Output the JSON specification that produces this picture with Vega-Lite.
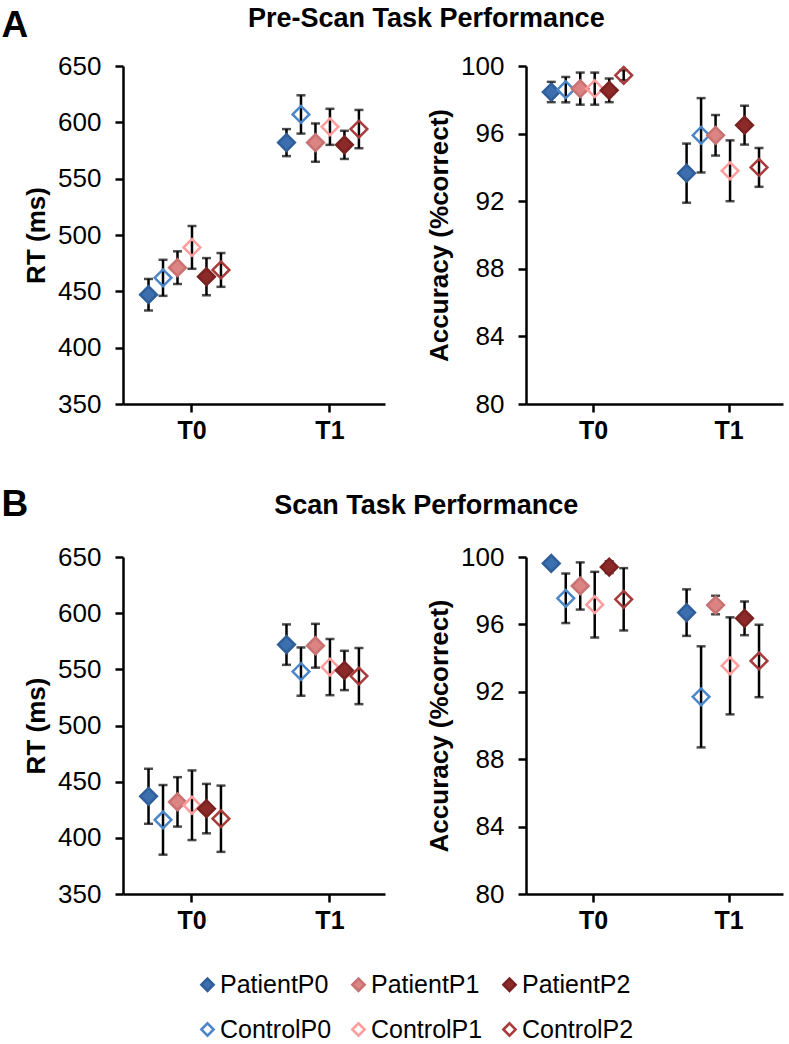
{
  "$schema": "https://vega.github.io/schema/vega-lite/v6.json",
  "background": "white",
  "padding": {"left": 1, "top": 5, "right": 5, "bottom": 5},
  "config": {
    "font": "Liberation Sans",
    "view": {"stroke": null},
    "axis": {
      "domainColor": "black", "domainWidth": 2.5, "tickColor": "black", "tickWidth": 2.5, "tickSize": 8,
      "labelColor": "black", "labelFont": "Liberation Sans", "labelFontSize": 26,
      "titleColor": "black", "titleFont": "Liberation Sans", "titleFontSize": 26, "titleFontWeight": "bold",
      "grid": false
    },
    "axisY": {"labelPadding": 14, "titlePadding": 8},
    "axisX": {"labelPadding": 6, "labelAngle": 0, "labelFontWeight": "bold", "labelFontSize": 25},
    "title": {"font": "Liberation Sans", "color": "black", "fontWeight": "bold"},
    "legend": {
      "symbolType": "diamond", "symbolSize": 150, "symbolStrokeWidth": 2.5,
      "labelFont": "Liberation Sans", "labelFontSize": 25, "labelColor": "black",
      "columnPadding": 14, "rowPadding": 19, "labelOffset": 0
    }
  },
  "data": {"values": [
    {"task": "PreScan", "measure": "RT", "time": "T0", "group": "PatientP0", "mean": 447, "se": 14},
    {"task": "PreScan", "measure": "RT", "time": "T0", "group": "ControlP0", "mean": 462, "se": 16},
    {"task": "PreScan", "measure": "RT", "time": "T0", "group": "PatientP1", "mean": 471, "se": 14.5},
    {"task": "PreScan", "measure": "RT", "time": "T0", "group": "ControlP1", "mean": 489, "se": 19},
    {"task": "PreScan", "measure": "RT", "time": "T0", "group": "PatientP2", "mean": 463, "se": 16.5},
    {"task": "PreScan", "measure": "RT", "time": "T0", "group": "ControlP2", "mean": 469, "se": 15},
    {"task": "PreScan", "measure": "RT", "time": "T1", "group": "PatientP0", "mean": 582, "se": 12},
    {"task": "PreScan", "measure": "RT", "time": "T1", "group": "ControlP0", "mean": 607, "se": 17},
    {"task": "PreScan", "measure": "RT", "time": "T1", "group": "PatientP1", "mean": 582, "se": 17},
    {"task": "PreScan", "measure": "RT", "time": "T1", "group": "ControlP1", "mean": 596, "se": 16},
    {"task": "PreScan", "measure": "RT", "time": "T1", "group": "PatientP2", "mean": 580, "se": 12.5},
    {"task": "PreScan", "measure": "RT", "time": "T1", "group": "ControlP2", "mean": 594, "se": 17},
    {"task": "PreScan", "measure": "Acc", "time": "T0", "group": "PatientP0", "mean": 98.46, "se": 0.6},
    {"task": "PreScan", "measure": "Acc", "time": "T0", "group": "ControlP0", "mean": 98.6, "se": 0.75},
    {"task": "PreScan", "measure": "Acc", "time": "T0", "group": "PatientP1", "mean": 98.66, "se": 0.95},
    {"task": "PreScan", "measure": "Acc", "time": "T0", "group": "ControlP1", "mean": 98.66, "se": 0.95},
    {"task": "PreScan", "measure": "Acc", "time": "T0", "group": "PatientP2", "mean": 98.56, "se": 0.7},
    {"task": "PreScan", "measure": "Acc", "time": "T0", "group": "ControlP2", "mean": 99.45, "se": 0.3},
    {"task": "PreScan", "measure": "Acc", "time": "T1", "group": "PatientP0", "mean": 93.66, "se": 1.75},
    {"task": "PreScan", "measure": "Acc", "time": "T1", "group": "ControlP0", "mean": 95.9, "se": 2.2},
    {"task": "PreScan", "measure": "Acc", "time": "T1", "group": "PatientP1", "mean": 95.9, "se": 1.2},
    {"task": "PreScan", "measure": "Acc", "time": "T1", "group": "ControlP1", "mean": 93.8, "se": 1.8},
    {"task": "PreScan", "measure": "Acc", "time": "T1", "group": "PatientP2", "mean": 96.5, "se": 1.15},
    {"task": "PreScan", "measure": "Acc", "time": "T1", "group": "ControlP2", "mean": 94.0, "se": 1.15},
    {"task": "Scan", "measure": "RT", "time": "T0", "group": "PatientP0", "mean": 437, "se": 24.5},
    {"task": "Scan", "measure": "RT", "time": "T0", "group": "ControlP0", "mean": 416, "se": 31},
    {"task": "Scan", "measure": "RT", "time": "T0", "group": "PatientP1", "mean": 432, "se": 22},
    {"task": "Scan", "measure": "RT", "time": "T0", "group": "ControlP1", "mean": 429, "se": 31},
    {"task": "Scan", "measure": "RT", "time": "T0", "group": "PatientP2", "mean": 426, "se": 22},
    {"task": "Scan", "measure": "RT", "time": "T0", "group": "ControlP2", "mean": 417, "se": 29.5},
    {"task": "Scan", "measure": "RT", "time": "T1", "group": "PatientP0", "mean": 572, "se": 18},
    {"task": "Scan", "measure": "RT", "time": "T1", "group": "ControlP0", "mean": 548, "se": 21.5},
    {"task": "Scan", "measure": "RT", "time": "T1", "group": "PatientP1", "mean": 571, "se": 19.5},
    {"task": "Scan", "measure": "RT", "time": "T1", "group": "ControlP1", "mean": 552, "se": 25},
    {"task": "Scan", "measure": "RT", "time": "T1", "group": "PatientP2", "mean": 549, "se": 17.5},
    {"task": "Scan", "measure": "RT", "time": "T1", "group": "ControlP2", "mean": 544, "se": 25},
    {"task": "Scan", "measure": "Acc", "time": "T0", "group": "PatientP0", "mean": 99.62, "se": 0.15},
    {"task": "Scan", "measure": "Acc", "time": "T0", "group": "ControlP0", "mean": 97.55, "se": 1.47},
    {"task": "Scan", "measure": "Acc", "time": "T0", "group": "PatientP1", "mean": 98.28, "se": 1.4},
    {"task": "Scan", "measure": "Acc", "time": "T0", "group": "ControlP1", "mean": 97.17, "se": 1.95},
    {"task": "Scan", "measure": "Acc", "time": "T0", "group": "PatientP2", "mean": 99.4, "se": 0.35},
    {"task": "Scan", "measure": "Acc", "time": "T0", "group": "ControlP2", "mean": 97.49, "se": 1.85},
    {"task": "Scan", "measure": "Acc", "time": "T1", "group": "PatientP0", "mean": 96.7, "se": 1.38},
    {"task": "Scan", "measure": "Acc", "time": "T1", "group": "ControlP0", "mean": 91.7, "se": 3.0},
    {"task": "Scan", "measure": "Acc", "time": "T1", "group": "PatientP1", "mean": 97.15, "se": 0.55},
    {"task": "Scan", "measure": "Acc", "time": "T1", "group": "ControlP1", "mean": 93.54, "se": 2.88},
    {"task": "Scan", "measure": "Acc", "time": "T1", "group": "PatientP2", "mean": 96.36, "se": 1.0},
    {"task": "Scan", "measure": "Acc", "time": "T1", "group": "ControlP2", "mean": 93.83, "se": 2.15}
  ]},
  "spacing": 43,
  "vconcat": [
    {
      "title": {"text": "Pre-Scan Task Performance", "fontSize": 27, "anchor": "middle", "dx": 34, "dy": 30},
      "spacing": 41,
      "hconcat": [
        {
          "width": 262, "height": 338,
          "title": {"text": "A", "anchor": "start", "frame": "bounds", "fontSize": 37, "dx": -22, "offset": 8},
          "transform": [{"filter": "datum.task === 'PreScan' && datum.measure === 'RT'"}],
          "encoding": {
            "x": {"field": "time", "type": "nominal", "title": null, "scale": {"paddingInner": 0.202, "paddingOuter": 0.0505, "align": 1}},
            "xOffset": {"field": "group", "type": "nominal", "scale": {"domain": ["PatientP0", "ControlP0", "PatientP1", "ControlP1", "PatientP2", "ControlP2", "pad"], "paddingInner": 0, "paddingOuter": 0.3}},
            "y": {"field": "mean", "type": "quantitative", "title": "RT (ms)", "scale": {"domain": [350, 650], "nice": false, "zero": false}, "axis": {"values": [350, 400, 450, 500, 550, 600, 650]}}
          },
          "layer": [
            {"mark": {"type": "errorbar", "color": "black", "thickness": 2.5, "ticks": {"size": 9, "thickness": 2.5, "color": "black"}, "rule": {"strokeWidth": 2.5, "color": "black"}}, "encoding": {"yError": {"field": "se"}}},
            {"mark": {"type": "point", "shape": "diamond", "size": 280, "strokeWidth": 2.5, "opacity": 1},
             "encoding": {
               "fill": {"field": "group", "type": "nominal", "scale": {"domain": ["PatientP0", "PatientP1", "PatientP2", "ControlP0", "ControlP1", "ControlP2"], "range": ["#3d6fae", "#dc8484", "#8c2a2a", "transparent", "transparent", "transparent"]}, "legend": {"title": null, "orient": "none", "legendX": 72, "legendY": 906, "direction": "horizontal", "columns": 3}},
               "stroke": {"field": "group", "type": "nominal", "scale": {"domain": ["PatientP0", "PatientP1", "PatientP2", "ControlP0", "ControlP1", "ControlP2"], "range": ["#2f5f9a", "#c87272", "#7a2222", "#4a86c8", "#ff9c9c", "#a83a3a"]}, "legend": {"title": null, "orient": "none", "legendX": 72, "legendY": 906, "direction": "horizontal", "columns": 3}}
             }}
          ]
        },
        {
          "width": 257, "height": 338,
          "title": {"text": " ", "anchor": "start", "frame": "bounds", "fontSize": 37, "offset": 8},
          "transform": [{"filter": "datum.task === 'PreScan' && datum.measure === 'Acc'"}],
          "encoding": {
            "x": {"field": "time", "type": "nominal", "title": null, "scale": {"paddingInner": 0.202, "paddingOuter": 0.0505, "align": 1}},
            "xOffset": {"field": "group", "type": "nominal", "scale": {"domain": ["PatientP0", "ControlP0", "PatientP1", "ControlP1", "PatientP2", "ControlP2", "pad"], "paddingInner": 0, "paddingOuter": 0.3}},
            "y": {"field": "mean", "type": "quantitative", "title": "Accuracy (%correct)", "scale": {"domain": [80, 100], "nice": false, "zero": false}, "axis": {"values": [80, 84, 88, 92, 96, 100]}}
          },
          "layer": [
            {"mark": {"type": "errorbar", "color": "black", "thickness": 2.5, "ticks": {"size": 9, "thickness": 2.5, "color": "black"}, "rule": {"strokeWidth": 2.5, "color": "black"}}, "encoding": {"yError": {"field": "se"}}},
            {"mark": {"type": "point", "shape": "diamond", "size": 280, "strokeWidth": 2.5, "opacity": 1},
             "encoding": {
               "fill": {"field": "group", "type": "nominal", "scale": {"domain": ["PatientP0", "PatientP1", "PatientP2", "ControlP0", "ControlP1", "ControlP2"], "range": ["#3d6fae", "#dc8484", "#8c2a2a", "transparent", "transparent", "transparent"]}, "legend": {"title": null, "orient": "none", "legendX": 72, "legendY": 906, "direction": "horizontal", "columns": 3}},
               "stroke": {"field": "group", "type": "nominal", "scale": {"domain": ["PatientP0", "PatientP1", "PatientP2", "ControlP0", "ControlP1", "ControlP2"], "range": ["#2f5f9a", "#c87272", "#7a2222", "#4a86c8", "#ff9c9c", "#a83a3a"]}, "legend": {"title": null, "orient": "none", "legendX": 72, "legendY": 906, "direction": "horizontal", "columns": 3}}
             }}
          ]
        }
      ]
    },
    {
      "title": {"text": "Scan Task Performance", "fontSize": 27, "anchor": "middle", "dx": 34, "dy": 38},
      "spacing": 41,
      "hconcat": [
        {
          "width": 262, "height": 337,
          "title": {"text": "B", "anchor": "start", "frame": "bounds", "fontSize": 37, "dx": -22, "offset": 20},
          "transform": [{"filter": "datum.task === 'Scan' && datum.measure === 'RT'"}],
          "encoding": {
            "x": {"field": "time", "type": "nominal", "title": null, "scale": {"paddingInner": 0.202, "paddingOuter": 0.0505, "align": 1}},
            "xOffset": {"field": "group", "type": "nominal", "scale": {"domain": ["PatientP0", "ControlP0", "PatientP1", "ControlP1", "PatientP2", "ControlP2", "pad"], "paddingInner": 0, "paddingOuter": 0.3}},
            "y": {"field": "mean", "type": "quantitative", "title": "RT (ms)", "scale": {"domain": [350, 650], "nice": false, "zero": false}, "axis": {"values": [350, 400, 450, 500, 550, 600, 650]}}
          },
          "layer": [
            {"mark": {"type": "errorbar", "color": "black", "thickness": 2.5, "ticks": {"size": 9, "thickness": 2.5, "color": "black"}, "rule": {"strokeWidth": 2.5, "color": "black"}}, "encoding": {"yError": {"field": "se"}}},
            {"mark": {"type": "point", "shape": "diamond", "size": 280, "strokeWidth": 2.5, "opacity": 1},
             "encoding": {
               "fill": {"field": "group", "type": "nominal", "scale": {"domain": ["PatientP0", "PatientP1", "PatientP2", "ControlP0", "ControlP1", "ControlP2"], "range": ["#3d6fae", "#dc8484", "#8c2a2a", "transparent", "transparent", "transparent"]}, "legend": {"title": null, "orient": "none", "legendX": 72, "legendY": 906, "direction": "horizontal", "columns": 3}},
               "stroke": {"field": "group", "type": "nominal", "scale": {"domain": ["PatientP0", "PatientP1", "PatientP2", "ControlP0", "ControlP1", "ControlP2"], "range": ["#2f5f9a", "#c87272", "#7a2222", "#4a86c8", "#ff9c9c", "#a83a3a"]}, "legend": {"title": null, "orient": "none", "legendX": 72, "legendY": 906, "direction": "horizontal", "columns": 3}}
             }}
          ]
        },
        {
          "width": 257, "height": 337,
          "title": {"text": " ", "anchor": "start", "frame": "bounds", "fontSize": 37, "offset": 20},
          "transform": [{"filter": "datum.task === 'Scan' && datum.measure === 'Acc'"}],
          "encoding": {
            "x": {"field": "time", "type": "nominal", "title": null, "scale": {"paddingInner": 0.202, "paddingOuter": 0.0505, "align": 1}},
            "xOffset": {"field": "group", "type": "nominal", "scale": {"domain": ["PatientP0", "ControlP0", "PatientP1", "ControlP1", "PatientP2", "ControlP2", "pad"], "paddingInner": 0, "paddingOuter": 0.3}},
            "y": {"field": "mean", "type": "quantitative", "title": "Accuracy (%correct)", "scale": {"domain": [80, 100], "nice": false, "zero": false}, "axis": {"values": [80, 84, 88, 92, 96, 100]}}
          },
          "layer": [
            {"mark": {"type": "errorbar", "color": "black", "thickness": 2.5, "ticks": {"size": 9, "thickness": 2.5, "color": "black"}, "rule": {"strokeWidth": 2.5, "color": "black"}}, "encoding": {"yError": {"field": "se"}}},
            {"mark": {"type": "point", "shape": "diamond", "size": 280, "strokeWidth": 2.5, "opacity": 1},
             "encoding": {
               "fill": {"field": "group", "type": "nominal", "scale": {"domain": ["PatientP0", "PatientP1", "PatientP2", "ControlP0", "ControlP1", "ControlP2"], "range": ["#3d6fae", "#dc8484", "#8c2a2a", "transparent", "transparent", "transparent"]}, "legend": {"title": null, "orient": "none", "legendX": 72, "legendY": 906, "direction": "horizontal", "columns": 3}},
               "stroke": {"field": "group", "type": "nominal", "scale": {"domain": ["PatientP0", "PatientP1", "PatientP2", "ControlP0", "ControlP1", "ControlP2"], "range": ["#2f5f9a", "#c87272", "#7a2222", "#4a86c8", "#ff9c9c", "#a83a3a"]}, "legend": {"title": null, "orient": "none", "legendX": 72, "legendY": 906, "direction": "horizontal", "columns": 3}}
             }}
          ]
        }
      ]
    }
  ]
}
